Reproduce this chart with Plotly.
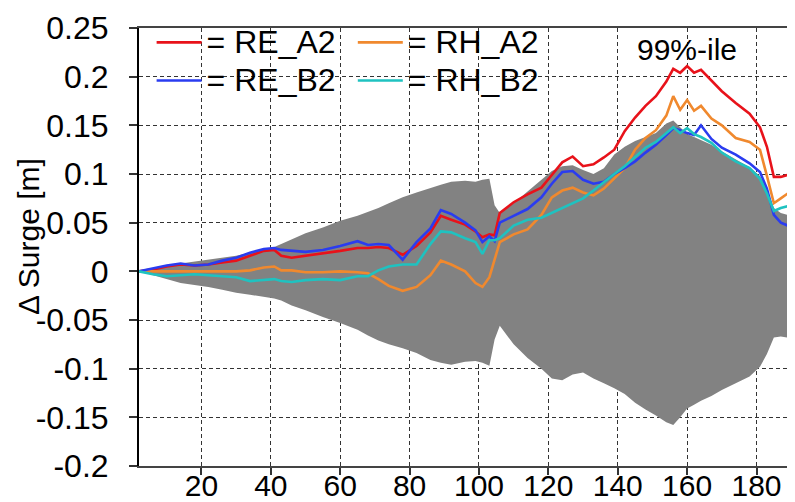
import plotly.graph_objects as go

# ---------------- data ----------------
x_vals = [2, 6, 10, 14, 18, 22, 26, 30, 34, 38, 41, 43, 46, 50, 55, 60, 65, 68, 71, 74,
          78, 82, 86, 89, 92, 96, 99, 101, 103, 104.5, 106, 110, 114, 118, 121, 124, 127,
          130, 133, 136, 139, 142, 145, 148, 151, 154, 156, 158, 160, 162, 164, 167, 170,
          174, 178, 181, 183, 185, 187, 189, 191, 194]

band_upper = [0, 0.003, 0.006, 0.008, 0.010, 0.012, 0.014, 0.016, 0.019, 0.022, 0.025, 0.028,
              0.033, 0.039, 0.045, 0.052, 0.057, 0.061, 0.065, 0.070, 0.076, 0.081, 0.086,
              0.089, 0.092, 0.093, 0.092, 0.094, 0.095, 0.068, 0.060, 0.070, 0.082, 0.094,
              0.103, 0.108, 0.109, 0.104, 0.100, 0.106, 0.120, 0.128, 0.134, 0.138, 0.142,
              0.152, 0.155, 0.148, 0.141, 0.138, 0.135, 0.130, 0.123, 0.115, 0.107, 0.098,
              0.084, 0.065, 0.060, 0.058, 0.057, 0.055]

band_lower = [0, -0.004, -0.008, -0.012, -0.014, -0.016, -0.019, -0.022, -0.024, -0.026,
              -0.028, -0.030, -0.035, -0.040, -0.047, -0.053, -0.060, -0.066, -0.071, -0.075,
              -0.079, -0.084, -0.091, -0.094, -0.096, -0.093, -0.092, -0.094, -0.097, -0.070,
              -0.056, -0.075, -0.089, -0.100, -0.110, -0.112, -0.106, -0.104, -0.110, -0.115,
              -0.120, -0.126, -0.135, -0.142, -0.148, -0.155, -0.158, -0.150, -0.141, -0.137,
              -0.133, -0.128, -0.122, -0.115, -0.108, -0.098, -0.085, -0.068, -0.067, -0.068,
              -0.066, -0.058]

re_a2 = [0, 0.002, 0.005, 0.007, 0.006, 0.007, 0.009, 0.011, 0.016, 0.021, 0.022, 0.016,
         0.014, 0.016, 0.018, 0.021, 0.024, 0.024, 0.025, 0.024, 0.017, 0.026, 0.040, 0.057,
         0.053, 0.048, 0.041, 0.035, 0.038, 0.037, 0.060, 0.071, 0.079, 0.086, 0.099, 0.112,
         0.118, 0.108, 0.110, 0.117, 0.125, 0.144, 0.158, 0.170, 0.180, 0.195, 0.208, 0.204,
         0.211, 0.204, 0.207, 0.196, 0.185, 0.173, 0.162, 0.148, 0.128, 0.097, 0.097, 0.099,
         0.099, 0.088]

re_b2 = [0, 0.003, 0.006, 0.008, 0.006, 0.007, 0.011, 0.014, 0.019, 0.023, 0.024, 0.022,
         0.021, 0.020, 0.022, 0.026, 0.031, 0.027, 0.028, 0.027, 0.012, 0.030, 0.044, 0.063,
         0.059, 0.050, 0.042, 0.030, 0.036, 0.031, 0.050, 0.057, 0.064, 0.076, 0.090, 0.102,
         0.103, 0.094, 0.090, 0.092, 0.100, 0.106, 0.113, 0.122, 0.130, 0.140, 0.147, 0.145,
         0.142, 0.140, 0.150, 0.136, 0.127, 0.120, 0.111, 0.102, 0.085, 0.058, 0.050, 0.047,
         0.043, 0.034]

rh_a2 = [0, 0, 0, 0, 0, 0, 0, 0, 0.001, 0.004, 0.005, 0.001, 0.001, -0.001, -0.001, 0.000,
         -0.001, -0.002, -0.008, -0.015, -0.020, -0.016, -0.004, 0.011, 0.007, 0.000, -0.012,
         -0.016, -0.006, 0.012, 0.030, 0.038, 0.043, 0.058, 0.076, 0.083, 0.086, 0.081, 0.078,
         0.085, 0.096, 0.106, 0.125, 0.137, 0.145, 0.160, 0.180, 0.166, 0.176, 0.165, 0.170,
         0.157, 0.150, 0.137, 0.133, 0.125, 0.098, 0.070, 0.075, 0.080, 0.083, 0.062]

rh_b2 = [0, -0.003, -0.005, -0.004, -0.003, -0.004, -0.005, -0.006, -0.010, -0.009, -0.008,
         -0.010, -0.011, -0.009, -0.008, -0.009, -0.005, -0.005, 0.001, 0.005, 0.007, 0.007,
         0.028, 0.041, 0.040, 0.034, 0.030, 0.018, 0.032, 0.032, 0.034, 0.047, 0.053, 0.055,
         0.060, 0.065, 0.070, 0.075, 0.083, 0.092, 0.100, 0.108, 0.118, 0.127, 0.133, 0.142,
         0.148, 0.142, 0.147, 0.141, 0.138, 0.132, 0.122, 0.113, 0.106, 0.095, 0.080, 0.062,
         0.065, 0.067, 0.066, 0.052]

x_ticks = [20, 40, 60, 80, 100, 120, 140, 160, 180]
y_ticks = [-0.2, -0.15, -0.1, -0.05, 0, 0.05, 0.1, 0.15, 0.2, 0.25]
y_tick_text = ["-0.2", "-0.15", "-0.1", "-0.05", "0", "0.05", "0.1", "0.15", "0.2", "0.25"]

series_names = ["RE_A2", "RE_B2", "RH_A2", "RH_B2"]
# ---------------------------------------

FONT = "Arial, Liberation Sans, sans-serif"
GRAY = "#828282"
RED = "#e8121a"
BLUE = "#2a3cf0"
ORANGE = "#f0892e"
CYAN = "#1fc2c0"


def leg_name(s):
    return '<span style="font-size:32px">= ' + s + '</span>'


fig = go.Figure()

# percentile band
fig.add_trace(go.Scatter(x=x_vals, y=band_lower, mode="lines", line=dict(width=0, color=GRAY),
                         showlegend=False, hoverinfo="skip"))
fig.add_trace(go.Scatter(x=x_vals, y=band_upper, mode="lines", line=dict(width=0, color=GRAY),
                         fill="tonexty", fillcolor=GRAY, showlegend=False, hoverinfo="skip"))

LW = 2.6
fig.add_trace(go.Scatter(x=x_vals, y=re_a2, mode="lines", name=leg_name(series_names[0]),
                         line=dict(color=RED, width=LW), legend="legend"))
fig.add_trace(go.Scatter(x=x_vals, y=rh_a2, mode="lines", name=leg_name(series_names[2]),
                         line=dict(color=ORANGE, width=LW), legend="legend2"))
fig.add_trace(go.Scatter(x=x_vals, y=re_b2, mode="lines", name=leg_name(series_names[1]),
                         line=dict(color=BLUE, width=LW), legend="legend"))
fig.add_trace(go.Scatter(x=x_vals, y=rh_b2, mode="lines", name=leg_name(series_names[3]),
                         line=dict(color=CYAN, width=LW), legend="legend2"))

grid = dict(showgrid=True, gridcolor="#333333", gridwidth=1, griddash="4px,3px")

fig.update_layout(
    width=795, height=502,
    margin=dict(l=131, r=0, t=20, b=44),
    paper_bgcolor="white", plot_bgcolor="white",
    font=dict(family=FONT, size=30, color="black"),
    showlegend=True,
    legend=dict(x=0.019, y=1.022, xanchor="left", yanchor="top", bgcolor="rgba(0,0,0,0)",
                font=dict(size=27, family=FONT), tracegroupgap=0, traceorder="normal",
                itemwidth=45),
    legend2=dict(x=0.322, y=1.022, xanchor="left", yanchor="top", bgcolor="rgba(0,0,0,0)",
                 font=dict(size=27, family=FONT), tracegroupgap=0, traceorder="normal",
                 itemwidth=45),
    xaxis=dict(range=[2.0, 193.4], tickvals=x_ticks, ticks="outside", ticklen=7,
               tickcolor="#333333", tickwidth=1.5, ticklabelstandoff=-15,
               showline=True, linecolor="#444444", linewidth=2, mirror=True,
               zeroline=False, tickfont=dict(size=30), **grid),
    yaxis=dict(range=[-0.2, 0.25], tickvals=y_ticks, ticktext=y_tick_text, ticks="outside",
               ticklen=8, tickcolor="#333333", tickwidth=1.5, ticklabelstandoff=14,
               showline=True, linecolor="black", linewidth=2,
               zeroline=False, tickfont=dict(size=32), **grid),
    shapes=[
        # white backdrop behind the legend (covers the gridlines, not the frame)
        dict(type="rect", xref="paper", yref="paper", x0=0, x1=0.642, y0=0.811, y1=1,
             fillcolor="white", line=dict(width=0), layer="between"),
    ],
    annotations=[
        dict(text="Δ Surge [m]", textangle=-90, xref="paper", yref="paper",
             x=0, y=0.523, xshift=-110, xanchor="center", yanchor="middle",
             showarrow=False, font=dict(size=30)),
        dict(text="99%-ile", xref="x", yref="y", x=160, y=0.228,
             xanchor="center", yanchor="middle", showarrow=False, font=dict(size=30)),
    ],
)

fig.write_html("out.html")
